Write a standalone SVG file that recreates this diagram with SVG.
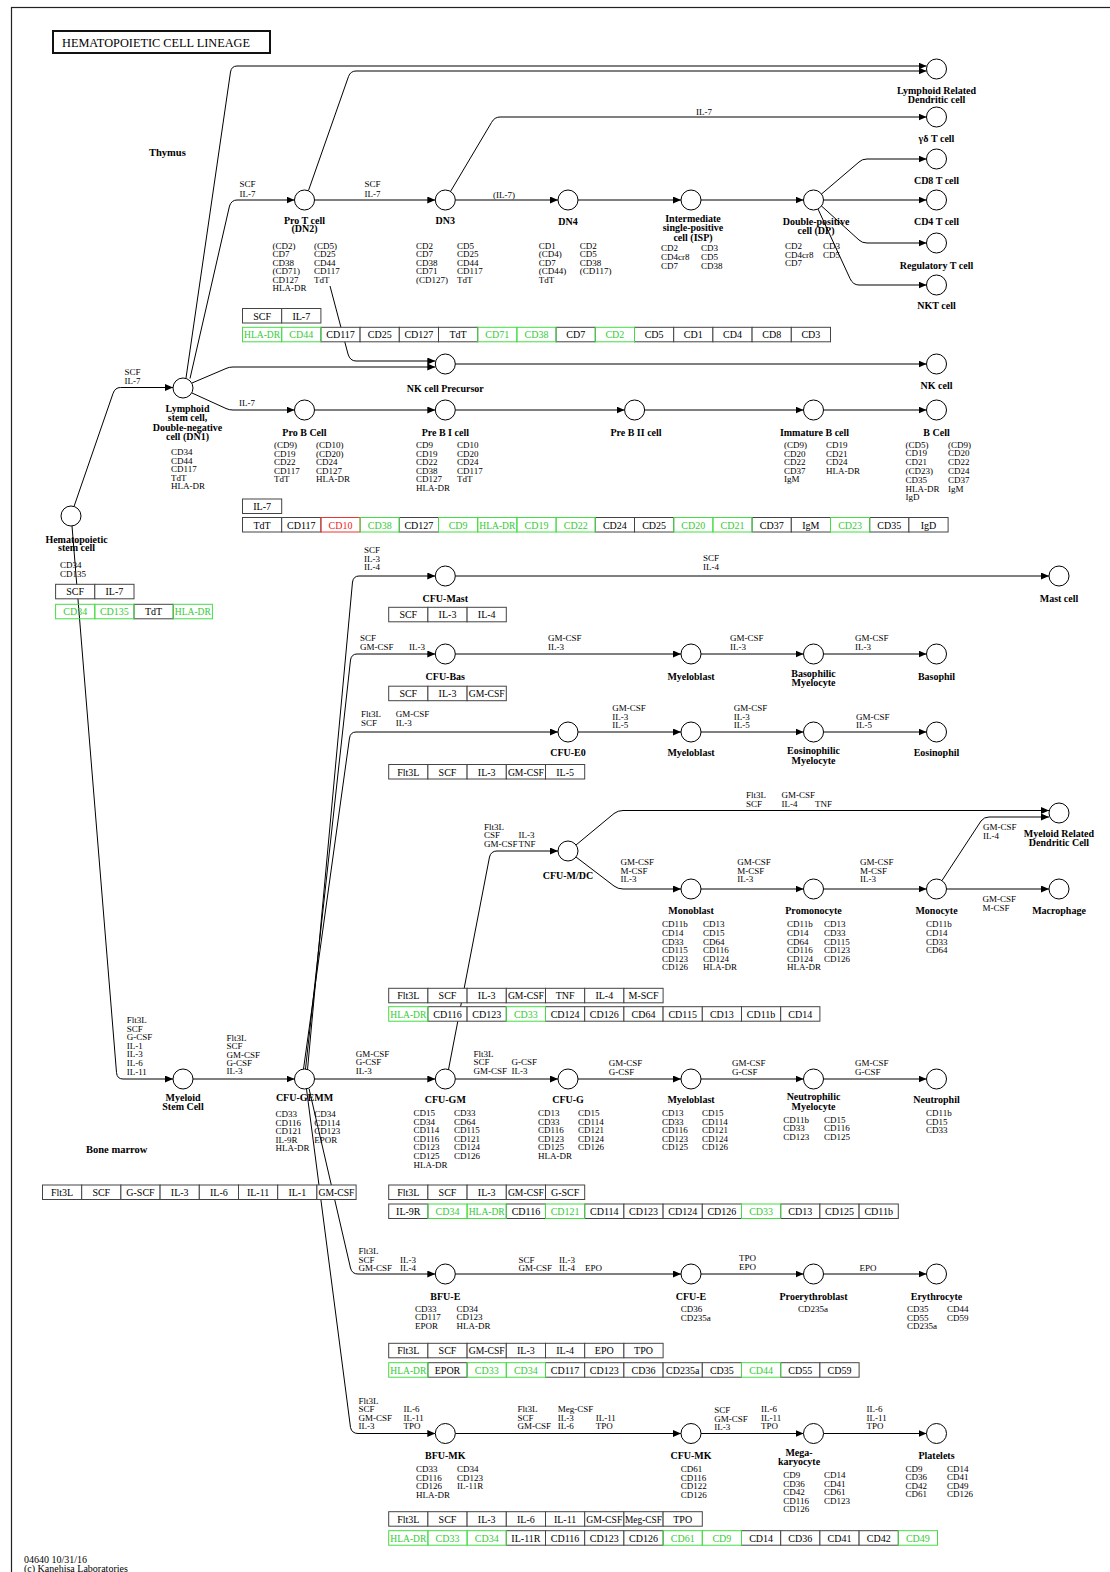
<svg xmlns="http://www.w3.org/2000/svg" width="1110" height="1572" viewBox="0 0 1110 1572">
<defs>
<marker id="ah" markerUnits="userSpaceOnUse" markerWidth="9" markerHeight="7" refX="8" refY="3.5" orient="auto"><path d="M0,0 L8,3.5 L0,7 z" fill="#000"/></marker>
<style>
.c{fill:#fff;stroke:#000;stroke-width:1}
.nl{font-family:"Liberation Serif",serif;font-size:10px;font-weight:bold;text-anchor:middle;fill:#000}
.rl{font-family:"Liberation Serif",serif;font-size:10.5px;font-weight:bold;fill:#000}
.mk{font-family:"Liberation Serif",serif;font-size:9px;fill:#000}
.lb{font-family:"Liberation Serif",serif;font-size:9px;fill:#000}
.bt{font-family:"Liberation Serif",serif;font-size:10px;text-anchor:middle;fill:#000}
.bk{fill:#fff;stroke:#444;stroke-width:1}
.gr{fill:none;stroke:#44dd44;stroke-width:1}
.rd{fill:none;stroke:#ee3333;stroke-width:1}
.gt{fill:#33cc33}
.rt{fill:#ee2222}
#connectors path{fill:none;stroke:#000;stroke-width:1;marker-end:url(#ah)}
</style>
</defs>
<rect width="1110" height="1572" fill="#fff"/>
<rect x="11.5" y="7.5" width="1200" height="1600" fill="none" stroke="#222" stroke-width="1.2"/>
<g id="title">
<rect x="53" y="31" width="217" height="22" fill="#fff" stroke="#111" stroke-width="2"/>
<text x="62" y="47" font-family="Liberation Serif,serif" font-size="12.5" textLength="188" lengthAdjust="spacingAndGlyphs">HEMATOPOIETIC CELL LINEAGE</text>
</g>
<g id="regions">
<text class="rl" x="149" y="155.5">Thymus</text>
<text class="rl" x="86" y="1152.5">Bone marrow</text>
</g>

<g id="connectors">
<path d="M74 506.5 L113 393.5 Q115 387.5 120.5 387.5 L173 387.5"/>
<path d="M186 378 L230.5 72 Q231.5 66 237 66 L926.5 66"/>
<path d="M308.5 190.5 L348.5 76.5 Q350.5 71 356 71 L926.5 71"/>
<path d="M190 378.5 L229.5 206 Q231.5 200 237 200 L294.5 200"/>
<path d="M314.5 200 L435.3 200"/>
<path d="M455.3 200 L558 200"/>
<path d="M578 200 L681 200"/>
<path d="M701 200 L803.5 200"/>
<path d="M823.5 200 L926.5 200"/>
<path d="M450.5 191.5 L491.5 122.5 Q494.5 117 500 117 L926.5 117"/>
<path d="M821.5 194 L859 162 Q862 159 867 159 L926.5 159"/>
<path d="M821.5 206 L859 240 Q862 243 867 243 L926.5 243"/>
<path d="M818 209 L850 278.5 Q853 285 859 285 L926.5 285"/>
<path d="M330 286 L348 354 Q350 361 356 361 L435.3 361"/>
<path d="M192 383 L226 368.5 Q229 367 233 367 L435.3 367"/>
<path d="M455.3 364 L926.5 364"/>
<path d="M192 393 L226 408.5 Q229 410 233 410 L294.5 410"/>
<path d="M314.5 410 L435.3 410"/>
<path d="M455.3 410 L624.6 410"/>
<path d="M644.6 410 L803.5 410"/>
<path d="M823.5 410 L926.5 410"/>
<path d="M72 526 L116.5 1072.5 Q117 1079 123 1079 L173 1079"/>
<path d="M193 1079 L294.5 1079"/>
<path d="M314.5 1079 L435.3 1079"/>
<path d="M455.3 1079 L558 1079"/>
<path d="M578 1079 L681 1079"/>
<path d="M701 1079 L803.5 1079"/>
<path d="M823.5 1079 L926.5 1079"/>
<path d="M307.5 1069.5 L352.5 582 Q353.5 576 359 576 L435.3 576"/>
<path d="M305.5 1069 L350.5 660 Q351.5 654 357 654 L435.3 654"/>
<path d="M303.5 1069 L349.5 738 Q350.5 732 356 732 L558 732"/>
<path d="M455.3 576 L1049 576"/>
<path d="M455.3 654 L681 654"/>
<path d="M701 654 L803.5 654"/>
<path d="M823.5 654 L926.5 654"/>
<path d="M578 732 L681 732"/>
<path d="M701 732 L803.5 732"/>
<path d="M823.5 732 L926.5 732"/>
<path d="M448.5 1069.5 L489.5 857 Q491 851 497 851 L558 851"/>
<path d="M576 845 L614 813.5 Q618 810.5 623 810.5 L1049 810.5"/>
<path d="M576 857 L614 886 Q618 889 623 889 L681 889"/>
<path d="M701 889 L803.5 889"/>
<path d="M823.5 889 L926.5 889"/>
<path d="M946.5 889 L1049 889"/>
<path d="M942 880.5 L981 821 Q984 817 989 817 L1049 817"/>
<path d="M309 1088.5 L350.5 1268 Q352 1274 358 1274 L435.3 1274"/>
<path d="M455.3 1274 L681 1274"/>
<path d="M701 1274 L803.5 1274"/>
<path d="M823.5 1274 L926.5 1274"/>
<path d="M306.5 1089 L350.5 1427.5 Q352 1433.5 358 1433.5 L435.3 1433.5"/>
<path d="M455.3 1433.5 L681 1433.5"/>
<path d="M701 1433.5 L803.5 1433.5"/>
<path d="M823.5 1433.5 L926.5 1433.5"/>
</g>

<g id="edge-labels" class="lb">
<text class="lb" x="239.6" y="187">SCF</text><text class="lb" x="239.6" y="196.5">IL-7</text>
<text class="lb" x="364.6" y="187">SCF</text><text class="lb" x="364.6" y="196.5">IL-7</text>
<text class="lb" x="493" y="198">(IL-7)</text>
<text class="lb" x="696" y="115">IL-7</text>
<text class="lb" x="124.6" y="374.7">SCF</text><text class="lb" x="124.6" y="384">IL-7</text>
<text class="lb" x="239" y="406.3">IL-7</text>
<text class="lb" x="364" y="553">SCF</text><text class="lb" x="364" y="561.5">IL-3</text><text class="lb" x="364" y="570">IL-4</text>
<text class="lb" x="703" y="561.3">SCF</text><text class="lb" x="703" y="570">IL-4</text>
<text class="lb" x="360" y="641.3">SCF</text><text class="lb" x="360" y="650.3">GM-CSF</text><text class="lb" x="409" y="650.3">IL-3</text>
<text class="lb" x="548" y="641.3">GM-CSF</text><text class="lb" x="548" y="650">IL-3</text>
<text class="lb" x="730" y="641.3">GM-CSF</text><text class="lb" x="730" y="650">IL-3</text>
<text class="lb" x="855" y="641.3">GM-CSF</text><text class="lb" x="855" y="650">IL-3</text>
<text class="lb" x="361" y="717.3">Flt3L</text><text class="lb" x="361" y="726">SCF</text><text class="lb" x="395.8" y="717.3">GM-CSF</text><text class="lb" x="395.8" y="726">IL-3</text>
<text class="lb" x="612.3" y="711.3">GM-CSF</text><text class="lb" x="612.3" y="719.7">IL-3</text><text class="lb" x="612.3" y="728">IL-5</text>
<text class="lb" x="733.8" y="711.3">GM-CSF</text><text class="lb" x="733.8" y="719.7">IL-3</text><text class="lb" x="733.8" y="728">IL-5</text>
<text class="lb" x="856" y="719.5">GM-CSF</text><text class="lb" x="856" y="728">IL-5</text>
<text class="lb" x="484" y="829.5">Flt3L</text><text class="lb" x="484" y="838">CSF</text><text class="lb" x="484" y="846.5">GM-CSF</text><text class="lb" x="518.6" y="838">IL-3</text><text class="lb" x="518.6" y="846.5">TNF</text>
<text class="lb" x="746" y="798">Flt3L</text><text class="lb" x="746" y="806.5">SCF</text><text class="lb" x="781.5" y="798">GM-CSF</text><text class="lb" x="781.5" y="806.5">IL-4</text><text class="lb" x="815" y="806.5">TNF</text>
<text class="lb" x="620.5" y="865.3">GM-CSF</text><text class="lb" x="620.5" y="873.7">M-CSF</text><text class="lb" x="620.5" y="882.2">IL-3</text>
<text class="lb" x="737.3" y="865.3">GM-CSF</text><text class="lb" x="737.3" y="873.7">M-CSF</text><text class="lb" x="737.3" y="882.2">IL-3</text>
<text class="lb" x="860" y="865.3">GM-CSF</text><text class="lb" x="860" y="873.7">M-CSF</text><text class="lb" x="860" y="882.2">IL-3</text>
<text class="lb" x="983" y="830.3">GM-CSF</text><text class="lb" x="983" y="838.5">IL-4</text>
<text class="lb" x="982.6" y="902.3">GM-CSF</text><text class="lb" x="982.6" y="911">M-CSF</text>
<text class="lb" x="126.7" y="1023">Flt3L</text><text class="lb" x="126.7" y="1031.6">SCF</text><text class="lb" x="126.7" y="1040.2">G-CSF</text><text class="lb" x="126.7" y="1048.8">IL-1</text><text class="lb" x="126.7" y="1057.4">IL-3</text><text class="lb" x="126.7" y="1066">IL-6</text><text class="lb" x="126.7" y="1074.6">IL-11</text>
<text class="lb" x="226.5" y="1041">Flt3L</text><text class="lb" x="226.5" y="1049.3">SCF</text><text class="lb" x="226.5" y="1057.6">GM-CSF</text><text class="lb" x="226.5" y="1065.9">G-CSF</text><text class="lb" x="226.5" y="1074.2">IL-3</text>
<text class="lb" x="355.8" y="1056.5">GM-CSF</text><text class="lb" x="355.8" y="1065">G-CSF</text><text class="lb" x="355.8" y="1073.7">IL-3</text>
<text class="lb" x="473.6" y="1056.5">Flt3L</text><text class="lb" x="473.6" y="1065">SCF</text><text class="lb" x="473.6" y="1073.7">GM-CSF</text><text class="lb" x="511.5" y="1065">G-CSF</text><text class="lb" x="511.5" y="1073.7">IL-3</text>
<text class="lb" x="608.8" y="1066.3">GM-CSF</text><text class="lb" x="608.8" y="1075">G-CSF</text>
<text class="lb" x="732" y="1066.3">GM-CSF</text><text class="lb" x="732" y="1075">G-CSF</text>
<text class="lb" x="855" y="1066.3">GM-CSF</text><text class="lb" x="855" y="1075">G-CSF</text>
<text class="lb" x="358.6" y="1254">Flt3L</text><text class="lb" x="358.6" y="1262.5">SCF</text><text class="lb" x="358.6" y="1271.2">GM-CSF</text><text class="lb" x="400" y="1262.5">IL-3</text><text class="lb" x="400" y="1271.2">IL-4</text>
<text class="lb" x="518.6" y="1263">SCF</text><text class="lb" x="518.6" y="1271.3">GM-CSF</text><text class="lb" x="559" y="1263">IL-3</text><text class="lb" x="559" y="1271.3">IL-4</text><text class="lb" x="585" y="1271.3">EPO</text>
<text class="lb" x="739" y="1261.3">TPO</text><text class="lb" x="739" y="1269.7">EPO</text>
<text class="lb" x="859.4" y="1271.3">EPO</text>
<text class="lb" x="358.6" y="1403.7">Flt3L</text><text class="lb" x="358.6" y="1412.2">SCF</text><text class="lb" x="358.6" y="1420.7">GM-CSF</text><text class="lb" x="358.6" y="1429.2">IL-3</text><text class="lb" x="403.5" y="1412.2">IL-6</text><text class="lb" x="403.5" y="1420.7">IL-11</text><text class="lb" x="403.5" y="1429.2">TPO</text>
<text class="lb" x="517.5" y="1412.3">Flt3L</text><text class="lb" x="517.5" y="1420.8">SCF</text><text class="lb" x="517.5" y="1429.3">GM-CSF</text><text class="lb" x="557.8" y="1412.3">Meg-CSF</text><text class="lb" x="557.8" y="1420.8">IL-3</text><text class="lb" x="557.8" y="1429.3">IL-6</text><text class="lb" x="595.7" y="1420.8">IL-11</text><text class="lb" x="595.7" y="1429.3">TPO</text>
<text class="lb" x="714.3" y="1413">SCF</text><text class="lb" x="714.3" y="1421.5">GM-CSF</text><text class="lb" x="714.3" y="1430">IL-3</text><text class="lb" x="761" y="1412.3">IL-6</text><text class="lb" x="761" y="1420.8">IL-11</text><text class="lb" x="761" y="1429.3">TPO</text>
<text class="lb" x="866.5" y="1412.3">IL-6</text><text class="lb" x="866.5" y="1420.8">IL-11</text><text class="lb" x="866.5" y="1429.3">TPO</text>
</g>

<g id="hsc"><circle class="c" cx="71" cy="516" r="10"/><text class="nl" x="76.5" y="542.5">Hematopoietic</text><text class="nl" x="76.5" y="551">stem cell</text>
<text class="mk" x="60" y="568">CD34</text><text class="mk" x="60" y="577">CD135</text></g>
<g id="lymphoid-stem-cell"><circle class="c" cx="183" cy="388" r="10"/><text class="nl" x="187.5" y="411.5">Lymphoid</text><text class="nl" x="187.5" y="421">stem cell,</text><text class="nl" x="187.5" y="430.5">Double-negative</text><text class="nl" x="187.5" y="440">cell (DN1)</text>
<text class="mk" y="455"><tspan x="171">CD34</tspan><tspan x="171" dy="8.6">CD44</tspan><tspan x="171" dy="8.6">CD117</tspan><tspan x="171" dy="8.6">TdT</tspan><tspan x="171" dy="8.6">HLA-DR</tspan></text></g>
<g id="pro-t-cell"><circle class="c" cx="304.5" cy="200" r="10"/><text class="nl" x="304.5" y="223.5">Pro T cell</text><text class="nl" x="304.5" y="232">(DN2)</text>
<text class="mk" y="249"><tspan x="272.6">(CD2)</tspan><tspan x="272.6" dy="8.4">CD7</tspan><tspan x="272.6" dy="8.4">CD38</tspan><tspan x="272.6" dy="8.4">(CD71)</tspan><tspan x="272.6" dy="8.4">CD127</tspan><tspan x="272.6" dy="8.4">HLA-DR</tspan></text>
<text class="mk" y="249"><tspan x="314">(CD5)</tspan><tspan x="314" dy="8.4">CD25</tspan><tspan x="314" dy="8.4">CD44</tspan><tspan x="314" dy="8.4">CD117</tspan><tspan x="314" dy="8.4">TdT</tspan></text></g>
<g id="dn3"><circle class="c" cx="445.3" cy="200" r="10"/><text class="nl" x="445.3" y="223.5">DN3</text>
<text class="mk" y="249"><tspan x="416">CD2</tspan><tspan x="416" dy="8.4">CD7</tspan><tspan x="416" dy="8.4">CD38</tspan><tspan x="416" dy="8.4">CD71</tspan><tspan x="416" dy="8.4">(CD127)</tspan></text>
<text class="mk" y="249"><tspan x="457">CD5</tspan><tspan x="457" dy="8.4">CD25</tspan><tspan x="457" dy="8.4">CD44</tspan><tspan x="457" dy="8.4">CD117</tspan><tspan x="457" dy="8.4">TdT</tspan></text></g>
<g id="dn4"><circle class="c" cx="568" cy="200" r="10"/><text class="nl" x="568" y="224.5">DN4</text>
<text class="mk" y="249"><tspan x="538.8">CD1</tspan><tspan x="538.8" dy="8.4">(CD4)</tspan><tspan x="538.8" dy="8.4">CD7</tspan><tspan x="538.8" dy="8.4">(CD44)</tspan><tspan x="538.8" dy="8.4">TdT</tspan></text>
<text class="mk" y="249"><tspan x="579.8">CD2</tspan><tspan x="579.8" dy="8.4">CD5</tspan><tspan x="579.8" dy="8.4">CD38</tspan><tspan x="579.8" dy="8.4">(CD117)</tspan></text></g>
<g id="isp"><circle class="c" cx="691" cy="200" r="10"/><text class="nl" x="693" y="221.8">Intermediate</text><text class="nl" x="693" y="231.3">single-positive</text><text class="nl" x="693" y="240.8">cell (ISP)</text>
<text class="mk" y="251.3"><tspan x="661">CD2</tspan><tspan x="661" dy="8.8">CD4cr8</tspan><tspan x="661" dy="8.8">CD7</tspan></text>
<text class="mk" y="251.3"><tspan x="701">CD3</tspan><tspan x="701" dy="8.8">CD5</tspan><tspan x="701" dy="8.8">CD38</tspan></text></g>
<g id="dp"><circle class="c" cx="813.5" cy="200" r="10"/><text class="nl" x="816" y="224.5">Double-positive</text><text class="nl" x="816" y="233.5">cell (DP)</text>
<text class="mk" y="249"><tspan x="785">CD2</tspan><tspan x="785" dy="8.5">CD4cr8</tspan><tspan x="785" dy="8.5">CD7</tspan></text>
<text class="mk" y="249"><tspan x="823">CD3</tspan><tspan x="823" dy="8.5">CD5</tspan></text></g>
<g id="lymphoid-dc"><circle class="c" cx="936.5" cy="69" r="10"/><text class="nl" x="936.5" y="93.5">Lymphoid Related</text><text class="nl" x="936.5" y="103">Dendritic cell</text></g>
<g id="gd-t-cell"><circle class="c" cx="936.5" cy="117" r="10"/><text class="nl" x="936.5" y="141.5">γδ T cell</text></g>
<g id="cd8-t-cell"><circle class="c" cx="936.5" cy="159" r="10"/><text class="nl" x="936.5" y="183.5">CD8 T cell</text></g>
<g id="cd4-t-cell"><circle class="c" cx="936.5" cy="200" r="10"/><text class="nl" x="936.5" y="224.5">CD4 T cell</text></g>
<g id="treg"><circle class="c" cx="936.5" cy="243" r="10"/><text class="nl" x="936.5" y="268.5">Regulatory T cell</text></g>
<g id="nkt-cell"><circle class="c" cx="936.5" cy="285" r="10"/><text class="nl" x="936.5" y="308.5">NKT cell</text></g>
<g id="nk-precursor"><circle class="c" cx="445.3" cy="364" r="10"/><text class="nl" x="445.3" y="391.5">NK cell Precursor</text></g>
<g id="nk-cell"><circle class="c" cx="936.5" cy="364" r="10"/><text class="nl" x="936.5" y="388.5">NK cell</text></g>
<g id="pro-b-cell"><circle class="c" cx="304.5" cy="410" r="10"/><text class="nl" x="304.5" y="435.5">Pro B Cell</text>
<text class="mk" y="448"><tspan x="274">(CD9)</tspan><tspan x="274" dy="8.6">CD19</tspan><tspan x="274" dy="8.6">CD22</tspan><tspan x="274" dy="8.6">CD117</tspan><tspan x="274" dy="8.6">TdT</tspan></text>
<text class="mk" y="448"><tspan x="316">(CD10)</tspan><tspan x="316" dy="8.6">(CD20)</tspan><tspan x="316" dy="8.6">CD24</tspan><tspan x="316" dy="8.6">CD127</tspan><tspan x="316" dy="8.6">HLA-DR</tspan></text></g>
<g id="pre-b-i-cell"><circle class="c" cx="445.3" cy="410" r="10"/><text class="nl" x="445.3" y="435.5">Pre B I cell</text>
<text class="mk" y="448"><tspan x="416">CD9</tspan><tspan x="416" dy="8.6">CD19</tspan><tspan x="416" dy="8.6">CD22</tspan><tspan x="416" dy="8.6">CD38</tspan><tspan x="416" dy="8.6">CD127</tspan><tspan x="416" dy="8.6">HLA-DR</tspan></text>
<text class="mk" y="448"><tspan x="457">CD10</tspan><tspan x="457" dy="8.6">CD20</tspan><tspan x="457" dy="8.6">CD24</tspan><tspan x="457" dy="8.6">CD117</tspan><tspan x="457" dy="8.6">TdT</tspan></text></g>
<g id="pre-b-ii-cell"><circle class="c" cx="634.6" cy="410" r="10"/><text class="nl" x="636" y="435.5">Pre B II cell</text></g>
<g id="immature-b-cell"><circle class="c" cx="813.5" cy="410" r="10"/><text class="nl" x="814.5" y="435.5">Immature B cell</text>
<text class="mk" y="448"><tspan x="784">(CD9)</tspan><tspan x="784" dy="8.6">CD20</tspan><tspan x="784" dy="8.6">CD22</tspan><tspan x="784" dy="8.6">CD37</tspan><tspan x="784" dy="8.6">IgM</tspan></text>
<text class="mk" y="448"><tspan x="826">CD19</tspan><tspan x="826" dy="8.6">CD21</tspan><tspan x="826" dy="8.6">CD24</tspan><tspan x="826" dy="8.6">HLA-DR</tspan></text></g>
<g id="b-cell"><circle class="c" cx="936.5" cy="410" r="10"/><text class="nl" x="936.5" y="435.5">B Cell</text>
<text class="mk" y="447.5"><tspan x="905.4">(CD5)</tspan><tspan x="905.4" dy="8.8">CD19</tspan><tspan x="905.4" dy="8.8">CD21</tspan><tspan x="905.4" dy="8.8">(CD23)</tspan><tspan x="905.4" dy="8.8">CD35</tspan><tspan x="905.4" dy="8.8">HLA-DR</tspan><tspan x="905.4" dy="8.8">IgD</tspan></text>
<text class="mk" y="447.5"><tspan x="948">(CD9)</tspan><tspan x="948" dy="8.8">CD20</tspan><tspan x="948" dy="8.8">CD22</tspan><tspan x="948" dy="8.8">CD24</tspan><tspan x="948" dy="8.8">CD37</tspan><tspan x="948" dy="8.8">IgM</tspan></text></g>

<g id="cfu-mast"><circle class="c" cx="445.3" cy="576" r="10"/><text class="nl" x="445.3" y="601.5">CFU-Mast</text></g>
<g id="mast-cell"><circle class="c" cx="1059" cy="576" r="10"/><text class="nl" x="1059" y="601.5">Mast cell</text></g>
<g id="cfu-bas"><circle class="c" cx="445.3" cy="654" r="10"/><text class="nl" x="445.3" y="680">CFU-Bas</text></g>
<g id="myeloblast-bas"><circle class="c" cx="691" cy="654" r="10"/><text class="nl" x="691" y="680">Myeloblast</text></g>
<g id="basophilic-myelocyte"><circle class="c" cx="813.5" cy="654" r="10"/><text class="nl" x="813.5" y="676.8">Basophilic</text><text class="nl" x="813.5" y="686.3">Myelocyte</text></g>
<g id="basophil"><circle class="c" cx="936.5" cy="654" r="10"/><text class="nl" x="936.5" y="680">Basophil</text></g>
<g id="cfu-eo"><circle class="c" cx="568" cy="732" r="10"/><text class="nl" x="568" y="756">CFU-E0</text></g>
<g id="myeloblast-eo"><circle class="c" cx="691" cy="732" r="10"/><text class="nl" x="691" y="756">Myeloblast</text></g>
<g id="eosinophilic-myelocyte"><circle class="c" cx="813.5" cy="732" r="10"/><text class="nl" x="813.5" y="754">Eosinophilic</text><text class="nl" x="813.5" y="763.5">Myelocyte</text></g>
<g id="eosinophil"><circle class="c" cx="936.5" cy="732" r="10"/><text class="nl" x="936.5" y="756">Eosinophil</text></g>

<g id="cfu-mdc"><circle class="c" cx="568" cy="851" r="10"/><text class="nl" x="568" y="878.5">CFU-M/DC</text></g>
<g id="myeloid-dc"><circle class="c" cx="1059" cy="813" r="10"/><text class="nl" x="1059" y="836.5">Myeloid Related</text><text class="nl" x="1059" y="846.3">Dendritic Cell</text></g>
<g id="monoblast"><circle class="c" cx="691" cy="889" r="10"/><text class="nl" x="691" y="913.5">Monoblast</text>
<text class="mk" y="927.3"><tspan x="662">CD11b</tspan><tspan x="662" dy="8.6">CD14</tspan><tspan x="662" dy="8.6">CD33</tspan><tspan x="662" dy="8.6">CD115</tspan><tspan x="662" dy="8.6">CD123</tspan><tspan x="662" dy="8.6">CD126</tspan></text>
<text class="mk" y="927.3"><tspan x="703">CD13</tspan><tspan x="703" dy="8.6">CD15</tspan><tspan x="703" dy="8.6">CD64</tspan><tspan x="703" dy="8.6">CD116</tspan><tspan x="703" dy="8.6">CD124</tspan><tspan x="703" dy="8.6">HLA-DR</tspan></text></g>
<g id="promonocyte"><circle class="c" cx="813.5" cy="889" r="10"/><text class="nl" x="813.5" y="913.5">Promonocyte</text>
<text class="mk" y="927.3"><tspan x="787">CD11b</tspan><tspan x="787" dy="8.6">CD14</tspan><tspan x="787" dy="8.6">CD64</tspan><tspan x="787" dy="8.6">CD116</tspan><tspan x="787" dy="8.6">CD124</tspan><tspan x="787" dy="8.6">HLA-DR</tspan></text>
<text class="mk" y="927.3"><tspan x="824">CD13</tspan><tspan x="824" dy="8.6">CD33</tspan><tspan x="824" dy="8.6">CD115</tspan><tspan x="824" dy="8.6">CD123</tspan><tspan x="824" dy="8.6">CD126</tspan></text></g>
<g id="monocyte"><circle class="c" cx="936.5" cy="889" r="10"/><text class="nl" x="936.5" y="913.5">Monocyte</text>
<text class="mk" y="927.3"><tspan x="926">CD11b</tspan><tspan x="926" dy="8.6">CD14</tspan><tspan x="926" dy="8.6">CD33</tspan><tspan x="926" dy="8.6">CD64</tspan></text></g>
<g id="macrophage"><circle class="c" cx="1059" cy="889" r="10"/><text class="nl" x="1059" y="913.5">Macrophage</text></g>

<g id="myeloid-stem-cell"><circle class="c" cx="183" cy="1079" r="10"/><text class="nl" x="183" y="1100.8">Myeloid</text><text class="nl" x="183" y="1110">Stem Cell</text></g>
<g id="cfu-gemm"><circle class="c" cx="304.5" cy="1079" r="10"/><text class="nl" x="304.5" y="1100.5">CFU-GEMM</text>
<text class="mk" y="1117"><tspan x="275.4">CD33</tspan><tspan x="275.4" dy="8.6">CD116</tspan><tspan x="275.4" dy="8.6">CD121</tspan><tspan x="275.4" dy="8.6">IL-9R</tspan><tspan x="275.4" dy="8.6">HLA-DR</tspan></text>
<text class="mk" y="1117"><tspan x="314.3">CD34</tspan><tspan x="314.3" dy="8.6">CD114</tspan><tspan x="314.3" dy="8.6">CD123</tspan><tspan x="314.3" dy="8.6">EPOR</tspan></text></g>
<g id="cfu-gm"><circle class="c" cx="445.3" cy="1079" r="10"/><text class="nl" x="445.3" y="1102.5">CFU-GM</text>
<text class="mk" y="1116"><tspan x="413.5">CD15</tspan><tspan x="413.5" dy="8.6">CD34</tspan><tspan x="413.5" dy="8.6">CD114</tspan><tspan x="413.5" dy="8.6">CD116</tspan><tspan x="413.5" dy="8.6">CD123</tspan><tspan x="413.5" dy="8.6">CD125</tspan><tspan x="413.5" dy="8.6">HLA-DR</tspan></text>
<text class="mk" y="1116"><tspan x="454">CD33</tspan><tspan x="454" dy="8.6">CD64</tspan><tspan x="454" dy="8.6">CD115</tspan><tspan x="454" dy="8.6">CD121</tspan><tspan x="454" dy="8.6">CD124</tspan><tspan x="454" dy="8.6">CD126</tspan></text></g>
<g id="cfu-g"><circle class="c" cx="568" cy="1079" r="10"/><text class="nl" x="568" y="1102.5">CFU-G</text>
<text class="mk" y="1116"><tspan x="538">CD13</tspan><tspan x="538" dy="8.6">CD33</tspan><tspan x="538" dy="8.6">CD116</tspan><tspan x="538" dy="8.6">CD123</tspan><tspan x="538" dy="8.6">CD125</tspan><tspan x="538" dy="8.6">HLA-DR</tspan></text>
<text class="mk" y="1116"><tspan x="578">CD15</tspan><tspan x="578" dy="8.6">CD114</tspan><tspan x="578" dy="8.6">CD121</tspan><tspan x="578" dy="8.6">CD124</tspan><tspan x="578" dy="8.6">CD126</tspan></text></g>
<g id="myeloblast-neu"><circle class="c" cx="691" cy="1079" r="10"/><text class="nl" x="691" y="1102.5">Myeloblast</text>
<text class="mk" y="1116"><tspan x="662">CD13</tspan><tspan x="662" dy="8.6">CD33</tspan><tspan x="662" dy="8.6">CD116</tspan><tspan x="662" dy="8.6">CD123</tspan><tspan x="662" dy="8.6">CD125</tspan></text>
<text class="mk" y="1116"><tspan x="702">CD15</tspan><tspan x="702" dy="8.6">CD114</tspan><tspan x="702" dy="8.6">CD121</tspan><tspan x="702" dy="8.6">CD124</tspan><tspan x="702" dy="8.6">CD126</tspan></text></g>
<g id="neutrophilic-myelocyte"><circle class="c" cx="813.5" cy="1079" r="10"/><text class="nl" x="813.5" y="1100">Neutrophilic</text><text class="nl" x="813.5" y="1109.5">Myelocyte</text>
<text class="mk" y="1123"><tspan x="783.3">CD11b</tspan><tspan x="783.3" dy="8.4">CD33</tspan><tspan x="783.3" dy="8.4">CD123</tspan></text>
<text class="mk" y="1123"><tspan x="824">CD15</tspan><tspan x="824" dy="8.4">CD116</tspan><tspan x="824" dy="8.4">CD125</tspan></text></g>
<g id="neutrophil"><circle class="c" cx="936.5" cy="1079" r="10"/><text class="nl" x="936.5" y="1102.5">Neutrophil</text>
<text class="mk" y="1116"><tspan x="926">CD11b</tspan><tspan x="926" dy="8.6">CD15</tspan><tspan x="926" dy="8.6">CD33</tspan></text></g>

<g id="bfu-e"><circle class="c" cx="445.3" cy="1274" r="10"/><text class="nl" x="445.3" y="1300">BFU-E</text>
<text class="mk" y="1311.5"><tspan x="415">CD33</tspan><tspan x="415" dy="8.5">CD117</tspan><tspan x="415" dy="8.5">EPOR</tspan></text>
<text class="mk" y="1311.5"><tspan x="456.6">CD34</tspan><tspan x="456.6" dy="8.5">CD123</tspan><tspan x="456.6" dy="8.5">HLA-DR</tspan></text></g>
<g id="cfu-e"><circle class="c" cx="691" cy="1274" r="10"/><text class="nl" x="691" y="1300">CFU-E</text>
<text class="mk" y="1312"><tspan x="680.7">CD36</tspan><tspan x="680.7" dy="8.5">CD235a</tspan></text></g>
<g id="proerythroblast"><circle class="c" cx="813.5" cy="1274" r="10"/><text class="nl" x="813.5" y="1300">Proerythroblast</text>
<text class="mk" x="798" y="1312">CD235a</text></g>
<g id="erythrocyte"><circle class="c" cx="936.5" cy="1274" r="10"/><text class="nl" x="936.5" y="1300">Erythrocyte</text>
<text class="mk" y="1312"><tspan x="907">CD35</tspan><tspan x="907" dy="8.5">CD55</tspan><tspan x="907" dy="8.5">CD235a</tspan></text>
<text class="mk" y="1312"><tspan x="947">CD44</tspan><tspan x="947" dy="8.5">CD59</tspan></text></g>

<g id="bfu-mk"><circle class="c" cx="445.3" cy="1433.5" r="10"/><text class="nl" x="445.3" y="1458.5">BFU-MK</text>
<text class="mk" y="1472"><tspan x="416">CD33</tspan><tspan x="416" dy="8.5">CD116</tspan><tspan x="416" dy="8.5">CD126</tspan><tspan x="416" dy="8.5">HLA-DR</tspan></text>
<text class="mk" y="1472"><tspan x="457">CD34</tspan><tspan x="457" dy="8.5">CD123</tspan><tspan x="457" dy="8.5">IL-11R</tspan></text></g>
<g id="cfu-mk"><circle class="c" cx="691" cy="1433.5" r="10"/><text class="nl" x="691" y="1458.5">CFU-MK</text>
<text class="mk" y="1472"><tspan x="680.7">CD61</tspan><tspan x="680.7" dy="8.5">CD116</tspan><tspan x="680.7" dy="8.5">CD122</tspan><tspan x="680.7" dy="8.5">CD126</tspan></text></g>
<g id="megakaryocyte"><circle class="c" cx="813.5" cy="1433.5" r="10"/><text class="nl" x="799" y="1456" text-anchor="start">Mega-</text><text class="nl" x="799" y="1465" text-anchor="start">karyocyte</text>
<text class="mk" y="1478"><tspan x="783.3">CD9</tspan><tspan x="783.3" dy="8.5">CD36</tspan><tspan x="783.3" dy="8.5">CD42</tspan><tspan x="783.3" dy="8.5">CD116</tspan><tspan x="783.3" dy="8.5">CD126</tspan></text>
<text class="mk" y="1478"><tspan x="824">CD14</tspan><tspan x="824" dy="8.5">CD41</tspan><tspan x="824" dy="8.5">CD61</tspan><tspan x="824" dy="8.5">CD123</tspan></text></g>
<g id="platelets"><circle class="c" cx="936.5" cy="1433.5" r="10"/><text class="nl" x="936.5" y="1458.5">Platelets</text>
<text class="mk" y="1472"><tspan x="905.4">CD9</tspan><tspan x="905.4" dy="8.4">CD36</tspan><tspan x="905.4" dy="8.4">CD42</tspan><tspan x="905.4" dy="8.4">CD61</tspan></text>
<text class="mk" y="1472"><tspan x="947">CD14</tspan><tspan x="947" dy="8.4">CD41</tspan><tspan x="947" dy="8.4">CD49</tspan><tspan x="947" dy="8.4">CD126</tspan></text></g>

<g id="box-thymus">
<rect class="bk" x="242.5" y="308.5" width="39.2" height="14.5"/><rect class="bk" x="281.7" y="308.5" width="39.2" height="14.5"/>
<text class="bt" x="262.1" y="319.5">SCF</text><text class="bt" x="301.3" y="319.5">IL-7</text>
<rect class="bk" x="320.9" y="327.3" width="39.2" height="14.5"/><rect class="bk" x="360.1" y="327.3" width="39.2" height="14.5"/><rect class="bk" x="399.3" y="327.3" width="39.2" height="14.5"/><rect class="bk" x="438.5" y="327.3" width="39.2" height="14.5"/><rect class="bk" x="556.1" y="327.3" width="39.2" height="14.5"/><rect class="bk" x="634.5" y="327.3" width="39.2" height="14.5"/><rect class="bk" x="673.7" y="327.3" width="39.2" height="14.5"/><rect class="bk" x="712.9" y="327.3" width="39.2" height="14.5"/><rect class="bk" x="752.1" y="327.3" width="39.2" height="14.5"/><rect class="bk" x="791.3" y="327.3" width="39.2" height="14.5"/>
<rect class="gr" x="242.5" y="327.3" width="39.2" height="14.5"/><rect class="gr" x="281.7" y="327.3" width="39.2" height="14.5"/><rect class="gr" x="477.7" y="327.3" width="39.2" height="14.5"/><rect class="gr" x="516.9" y="327.3" width="39.2" height="14.5"/><rect class="gr" x="595.3" y="327.3" width="39.2" height="14.5"/>
<text class="bt gt" x="262.1" y="338.3" textLength="36" lengthAdjust="spacingAndGlyphs">HLA-DR</text><text class="bt gt" x="301.3" y="338.3">CD44</text><text class="bt" x="340.5" y="338.3">CD117</text><text class="bt" x="379.7" y="338.3">CD25</text><text class="bt" x="418.9" y="338.3">CD127</text><text class="bt" x="458.1" y="338.3">TdT</text><text class="bt gt" x="497.3" y="338.3">CD71</text><text class="bt gt" x="536.5" y="338.3">CD38</text><text class="bt" x="575.7" y="338.3">CD7</text><text class="bt gt" x="614.9" y="338.3">CD2</text><text class="bt" x="654.1" y="338.3">CD5</text><text class="bt" x="693.3" y="338.3">CD1</text><text class="bt" x="732.5" y="338.3">CD4</text><text class="bt" x="771.7" y="338.3">CD8</text><text class="bt" x="810.9" y="338.3">CD3</text>
</g>

<g id="box-bcell">
<rect class="bk" x="242.5" y="499" width="39.2" height="14.5"/><text class="bt" x="262.1" y="510">IL-7</text>
<rect class="bk" x="242.5" y="517.5" width="39.2" height="14.5"/><rect class="bk" x="281.7" y="517.5" width="39.2" height="14.5"/><rect class="bk" x="399.3" y="517.5" width="39.2" height="14.5"/><rect class="bk" x="595.3" y="517.5" width="39.2" height="14.5"/><rect class="bk" x="634.5" y="517.5" width="39.2" height="14.5"/><rect class="bk" x="752.1" y="517.5" width="39.2" height="14.5"/><rect class="bk" x="791.3" y="517.5" width="39.2" height="14.5"/><rect class="bk" x="869.7" y="517.5" width="39.2" height="14.5"/><rect class="bk" x="908.9" y="517.5" width="39.2" height="14.5"/>
<rect class="rd" x="320.9" y="517.5" width="39.2" height="14.5"/>
<rect class="gr" x="360.1" y="517.5" width="39.2" height="14.5"/><rect class="gr" x="438.5" y="517.5" width="39.2" height="14.5"/><rect class="gr" x="477.7" y="517.5" width="39.2" height="14.5"/><rect class="gr" x="516.9" y="517.5" width="39.2" height="14.5"/><rect class="gr" x="556.1" y="517.5" width="39.2" height="14.5"/><rect class="gr" x="673.7" y="517.5" width="39.2" height="14.5"/><rect class="gr" x="712.9" y="517.5" width="39.2" height="14.5"/><rect class="gr" x="830.5" y="517.5" width="39.2" height="14.5"/>
<text class="bt" x="262.1" y="528.5">TdT</text><text class="bt" x="301.3" y="528.5">CD117</text><text class="bt rt" x="340.5" y="528.5">CD10</text><text class="bt gt" x="379.7" y="528.5">CD38</text><text class="bt" x="418.9" y="528.5">CD127</text><text class="bt gt" x="458.1" y="528.5">CD9</text><text class="bt gt" x="497.3" y="528.5" textLength="36" lengthAdjust="spacingAndGlyphs">HLA-DR</text><text class="bt gt" x="536.5" y="528.5">CD19</text><text class="bt gt" x="575.7" y="528.5">CD22</text><text class="bt" x="614.9" y="528.5">CD24</text><text class="bt" x="654.1" y="528.5">CD25</text><text class="bt gt" x="693.3" y="528.5">CD20</text><text class="bt gt" x="732.5" y="528.5">CD21</text><text class="bt" x="771.7" y="528.5">CD37</text><text class="bt" x="810.9" y="528.5">IgM</text><text class="bt gt" x="850.1" y="528.5">CD23</text><text class="bt" x="889.3" y="528.5">CD35</text><text class="bt" x="928.5" y="528.5">IgD</text>
</g>

<g id="box-hsc">
<rect class="bk" x="55.6" y="584.3" width="39.2" height="14.5"/><rect class="bk" x="94.8" y="584.3" width="39.2" height="14.5"/>
<text class="bt" x="75.2" y="595.3">SCF</text><text class="bt" x="114.4" y="595.3">IL-7</text>
<rect class="bk" x="134" y="604.3" width="39.2" height="14.5"/>
<rect class="gr" x="55.6" y="604.3" width="39.2" height="14.5"/><rect class="gr" x="94.8" y="604.3" width="39.2" height="14.5"/><rect class="gr" x="173.2" y="604.3" width="39.2" height="14.5"/>
<text class="bt gt" x="75.2" y="615.3">CD34</text><text class="bt gt" x="114.4" y="615.3">CD135</text><text class="bt" x="153.6" y="615.3">TdT</text><text class="bt gt" x="192.8" y="615.3" textLength="36" lengthAdjust="spacingAndGlyphs">HLA-DR</text>
</g>

<g id="box-mast">
<rect class="bk" x="388.7" y="607.3" width="39.2" height="14.5"/><rect class="bk" x="427.9" y="607.3" width="39.2" height="14.5"/><rect class="bk" x="467.1" y="607.3" width="39.2" height="14.5"/>
<text class="bt" x="408.3" y="618.3">SCF</text><text class="bt" x="447.5" y="618.3">IL-3</text><text class="bt" x="486.7" y="618.3">IL-4</text>
</g>
<g id="box-bas">
<rect class="bk" x="388.7" y="686.2" width="39.2" height="14.5"/><rect class="bk" x="427.9" y="686.2" width="39.2" height="14.5"/><rect class="bk" x="467.1" y="686.2" width="39.2" height="14.5"/>
<text class="bt" x="408.3" y="697.2">SCF</text><text class="bt" x="447.5" y="697.2">IL-3</text><text class="bt" x="486.7" y="697.2" textLength="36" lengthAdjust="spacingAndGlyphs">GM-CSF</text>
</g>
<g id="box-eo">
<rect class="bk" x="388.7" y="764.5" width="39.2" height="14.5"/><rect class="bk" x="427.9" y="764.5" width="39.2" height="14.5"/><rect class="bk" x="467.1" y="764.5" width="39.2" height="14.5"/><rect class="bk" x="506.3" y="764.5" width="39.2" height="14.5"/><rect class="bk" x="545.5" y="764.5" width="39.2" height="14.5"/>
<text class="bt" x="408.3" y="775.5">Flt3L</text><text class="bt" x="447.5" y="775.5">SCF</text><text class="bt" x="486.7" y="775.5">IL-3</text><text class="bt" x="525.9" y="775.5" textLength="36" lengthAdjust="spacingAndGlyphs">GM-CSF</text><text class="bt" x="565.1" y="775.5">IL-5</text>
</g>

<g id="box-mono">
<rect class="bk" x="388.7" y="988.3" width="39.2" height="14.5"/><rect class="bk" x="427.9" y="988.3" width="39.2" height="14.5"/><rect class="bk" x="467.1" y="988.3" width="39.2" height="14.5"/><rect class="bk" x="506.3" y="988.3" width="39.2" height="14.5"/><rect class="bk" x="545.5" y="988.3" width="39.2" height="14.5"/><rect class="bk" x="584.7" y="988.3" width="39.2" height="14.5"/><rect class="bk" x="623.9" y="988.3" width="39.2" height="14.5"/>
<text class="bt" x="408.3" y="999.3">Flt3L</text><text class="bt" x="447.5" y="999.3">SCF</text><text class="bt" x="486.7" y="999.3">IL-3</text><text class="bt" x="525.9" y="999.3" textLength="36" lengthAdjust="spacingAndGlyphs">GM-CSF</text><text class="bt" x="565.1" y="999.3">TNF</text><text class="bt" x="604.3" y="999.3">IL-4</text><text class="bt" x="643.5" y="999.3">M-SCF</text>
<rect class="bk" x="427.9" y="1006.7" width="39.2" height="14.5"/><rect class="bk" x="467.1" y="1006.7" width="39.2" height="14.5"/><rect class="bk" x="545.5" y="1006.7" width="39.2" height="14.5"/><rect class="bk" x="584.7" y="1006.7" width="39.2" height="14.5"/><rect class="bk" x="623.9" y="1006.7" width="39.2" height="14.5"/><rect class="bk" x="663.1" y="1006.7" width="39.2" height="14.5"/><rect class="bk" x="702.3" y="1006.7" width="39.2" height="14.5"/><rect class="bk" x="741.5" y="1006.7" width="39.2" height="14.5"/><rect class="bk" x="780.7" y="1006.7" width="39.2" height="14.5"/>
<rect class="gr" x="388.7" y="1006.7" width="39.2" height="14.5"/><rect class="gr" x="506.3" y="1006.7" width="39.2" height="14.5"/>
<text class="bt gt" x="408.3" y="1017.7" textLength="36" lengthAdjust="spacingAndGlyphs">HLA-DR</text><text class="bt" x="447.5" y="1017.7">CD116</text><text class="bt" x="486.7" y="1017.7">CD123</text><text class="bt gt" x="525.9" y="1017.7">CD33</text><text class="bt" x="565.1" y="1017.7">CD124</text><text class="bt" x="604.3" y="1017.7">CD126</text><text class="bt" x="643.5" y="1017.7">CD64</text><text class="bt" x="682.7" y="1017.7">CD115</text><text class="bt" x="721.9" y="1017.7">CD13</text><text class="bt" x="761.1" y="1017.7">CD11b</text><text class="bt" x="800.3" y="1017.7">CD14</text>
</g>

<g id="box-bone-marrow">
<rect class="bk" x="42.5" y="1185" width="39.2" height="14.5"/><rect class="bk" x="81.7" y="1185" width="39.2" height="14.5"/><rect class="bk" x="120.9" y="1185" width="39.2" height="14.5"/><rect class="bk" x="160.1" y="1185" width="39.2" height="14.5"/><rect class="bk" x="199.3" y="1185" width="39.2" height="14.5"/><rect class="bk" x="238.5" y="1185" width="39.2" height="14.5"/><rect class="bk" x="277.7" y="1185" width="39.2" height="14.5"/><rect class="bk" x="316.9" y="1185" width="39.2" height="14.5"/>
<text class="bt" x="62.1" y="1196">Flt3L</text><text class="bt" x="101.3" y="1196">SCF</text><text class="bt" x="140.5" y="1196">G-SCF</text><text class="bt" x="179.7" y="1196">IL-3</text><text class="bt" x="218.9" y="1196">IL-6</text><text class="bt" x="258.1" y="1196">IL-11</text><text class="bt" x="297.3" y="1196">IL-1</text><text class="bt" x="336.5" y="1196" textLength="36" lengthAdjust="spacingAndGlyphs">GM-CSF</text>
</g>

<g id="box-neutro">
<rect class="bk" x="388.7" y="1185" width="39.2" height="14.5"/><rect class="bk" x="427.9" y="1185" width="39.2" height="14.5"/><rect class="bk" x="467.1" y="1185" width="39.2" height="14.5"/><rect class="bk" x="506.3" y="1185" width="39.2" height="14.5"/><rect class="bk" x="545.5" y="1185" width="39.2" height="14.5"/>
<text class="bt" x="408.3" y="1196">Flt3L</text><text class="bt" x="447.5" y="1196">SCF</text><text class="bt" x="486.7" y="1196">IL-3</text><text class="bt" x="525.9" y="1196" textLength="36" lengthAdjust="spacingAndGlyphs">GM-CSF</text><text class="bt" x="565.1" y="1196">G-SCF</text>
<rect class="bk" x="388.7" y="1204" width="39.2" height="14.5"/><rect class="bk" x="506.3" y="1204" width="39.2" height="14.5"/><rect class="bk" x="584.7" y="1204" width="39.2" height="14.5"/><rect class="bk" x="623.9" y="1204" width="39.2" height="14.5"/><rect class="bk" x="663.1" y="1204" width="39.2" height="14.5"/><rect class="bk" x="702.3" y="1204" width="39.2" height="14.5"/><rect class="bk" x="780.7" y="1204" width="39.2" height="14.5"/><rect class="bk" x="819.9" y="1204" width="39.2" height="14.5"/><rect class="bk" x="859.1" y="1204" width="39.2" height="14.5"/>
<rect class="gr" x="427.9" y="1204" width="39.2" height="14.5"/><rect class="gr" x="467.1" y="1204" width="39.2" height="14.5"/><rect class="gr" x="545.5" y="1204" width="39.2" height="14.5"/><rect class="gr" x="741.5" y="1204" width="39.2" height="14.5"/>
<text class="bt" x="408.3" y="1215">IL-9R</text><text class="bt gt" x="447.5" y="1215">CD34</text><text class="bt gt" x="486.7" y="1215" textLength="36" lengthAdjust="spacingAndGlyphs">HLA-DR</text><text class="bt" x="525.9" y="1215">CD116</text><text class="bt gt" x="565.1" y="1215">CD121</text><text class="bt" x="604.3" y="1215">CD114</text><text class="bt" x="643.5" y="1215">CD123</text><text class="bt" x="682.7" y="1215">CD124</text><text class="bt" x="721.9" y="1215">CD126</text><text class="bt gt" x="761.1" y="1215">CD33</text><text class="bt" x="800.3" y="1215">CD13</text><text class="bt" x="839.5" y="1215">CD125</text><text class="bt" x="878.7" y="1215">CD11b</text>
</g>

<g id="box-ery">
<rect class="bk" x="388.7" y="1343.3" width="39.2" height="14.5"/><rect class="bk" x="427.9" y="1343.3" width="39.2" height="14.5"/><rect class="bk" x="467.1" y="1343.3" width="39.2" height="14.5"/><rect class="bk" x="506.3" y="1343.3" width="39.2" height="14.5"/><rect class="bk" x="545.5" y="1343.3" width="39.2" height="14.5"/><rect class="bk" x="584.7" y="1343.3" width="39.2" height="14.5"/><rect class="bk" x="623.9" y="1343.3" width="39.2" height="14.5"/>
<text class="bt" x="408.3" y="1354.3">Flt3L</text><text class="bt" x="447.5" y="1354.3">SCF</text><text class="bt" x="486.7" y="1354.3" textLength="36" lengthAdjust="spacingAndGlyphs">GM-CSF</text><text class="bt" x="525.9" y="1354.3">IL-3</text><text class="bt" x="565.1" y="1354.3">IL-4</text><text class="bt" x="604.3" y="1354.3">EPO</text><text class="bt" x="643.5" y="1354.3">TPO</text>
<rect class="bk" x="427.9" y="1362.7" width="39.2" height="14.5"/><rect class="bk" x="545.5" y="1362.7" width="39.2" height="14.5"/><rect class="bk" x="584.7" y="1362.7" width="39.2" height="14.5"/><rect class="bk" x="623.9" y="1362.7" width="39.2" height="14.5"/><rect class="bk" x="663.1" y="1362.7" width="39.2" height="14.5"/><rect class="bk" x="702.3" y="1362.7" width="39.2" height="14.5"/><rect class="bk" x="780.7" y="1362.7" width="39.2" height="14.5"/><rect class="bk" x="819.9" y="1362.7" width="39.2" height="14.5"/>
<rect class="gr" x="388.7" y="1362.7" width="39.2" height="14.5"/><rect class="gr" x="467.1" y="1362.7" width="39.2" height="14.5"/><rect class="gr" x="506.3" y="1362.7" width="39.2" height="14.5"/><rect class="gr" x="741.5" y="1362.7" width="39.2" height="14.5"/>
<text class="bt gt" x="408.3" y="1373.7" textLength="36" lengthAdjust="spacingAndGlyphs">HLA-DR</text><text class="bt" x="447.5" y="1373.7">EPOR</text><text class="bt gt" x="486.7" y="1373.7">CD33</text><text class="bt gt" x="525.9" y="1373.7">CD34</text><text class="bt" x="565.1" y="1373.7">CD117</text><text class="bt" x="604.3" y="1373.7">CD123</text><text class="bt" x="643.5" y="1373.7">CD36</text><text class="bt" x="682.7" y="1373.7">CD235a</text><text class="bt" x="721.9" y="1373.7">CD35</text><text class="bt gt" x="761.1" y="1373.7">CD44</text><text class="bt" x="800.3" y="1373.7">CD55</text><text class="bt" x="839.5" y="1373.7">CD59</text>
</g>

<g id="box-plt">
<rect class="bk" x="388.7" y="1511.7" width="39.2" height="14.5"/><rect class="bk" x="427.9" y="1511.7" width="39.2" height="14.5"/><rect class="bk" x="467.1" y="1511.7" width="39.2" height="14.5"/><rect class="bk" x="506.3" y="1511.7" width="39.2" height="14.5"/><rect class="bk" x="545.5" y="1511.7" width="39.2" height="14.5"/><rect class="bk" x="584.7" y="1511.7" width="39.2" height="14.5"/><rect class="bk" x="623.9" y="1511.7" width="39.2" height="14.5"/><rect class="bk" x="663.1" y="1511.7" width="39.2" height="14.5"/>
<text class="bt" x="408.3" y="1522.7">Flt3L</text><text class="bt" x="447.5" y="1522.7">SCF</text><text class="bt" x="486.7" y="1522.7">IL-3</text><text class="bt" x="525.9" y="1522.7">IL-6</text><text class="bt" x="565.1" y="1522.7">IL-11</text><text class="bt" x="604.3" y="1522.7" textLength="36" lengthAdjust="spacingAndGlyphs">GM-CSF</text><text class="bt" x="643.5" y="1522.7" textLength="37" lengthAdjust="spacingAndGlyphs">Meg-CSF</text><text class="bt" x="682.7" y="1522.7">TPO</text>
<rect class="bk" x="506.3" y="1530.7" width="39.2" height="14.5"/><rect class="bk" x="545.5" y="1530.7" width="39.2" height="14.5"/><rect class="bk" x="584.7" y="1530.7" width="39.2" height="14.5"/><rect class="bk" x="623.9" y="1530.7" width="39.2" height="14.5"/><rect class="bk" x="741.5" y="1530.7" width="39.2" height="14.5"/><rect class="bk" x="780.7" y="1530.7" width="39.2" height="14.5"/><rect class="bk" x="819.9" y="1530.7" width="39.2" height="14.5"/><rect class="bk" x="859.1" y="1530.7" width="39.2" height="14.5"/>
<rect class="gr" x="388.7" y="1530.7" width="39.2" height="14.5"/><rect class="gr" x="427.9" y="1530.7" width="39.2" height="14.5"/><rect class="gr" x="467.1" y="1530.7" width="39.2" height="14.5"/><rect class="gr" x="663.1" y="1530.7" width="39.2" height="14.5"/><rect class="gr" x="702.3" y="1530.7" width="39.2" height="14.5"/><rect class="gr" x="898.3" y="1530.7" width="39.2" height="14.5"/>
<text class="bt gt" x="408.3" y="1541.7" textLength="36" lengthAdjust="spacingAndGlyphs">HLA-DR</text><text class="bt gt" x="447.5" y="1541.7">CD33</text><text class="bt gt" x="486.7" y="1541.7">CD34</text><text class="bt" x="525.9" y="1541.7">IL-11R</text><text class="bt" x="565.1" y="1541.7">CD116</text><text class="bt" x="604.3" y="1541.7">CD123</text><text class="bt" x="643.5" y="1541.7">CD126</text><text class="bt gt" x="682.7" y="1541.7">CD61</text><text class="bt gt" x="721.9" y="1541.7">CD9</text><text class="bt" x="761.1" y="1541.7">CD14</text><text class="bt" x="800.3" y="1541.7">CD36</text><text class="bt" x="839.5" y="1541.7">CD41</text><text class="bt" x="878.7" y="1541.7">CD42</text><text class="bt gt" x="917.9" y="1541.7">CD49</text>
</g>

<g id="footer">
<text x="24" y="1563" font-family="Liberation Serif,serif" font-size="10">04640 10/31/16</text>
<text x="24" y="1571.5" font-family="Liberation Serif,serif" font-size="10">(c) Kanehisa Laboratories</text>
</g>
</svg>
